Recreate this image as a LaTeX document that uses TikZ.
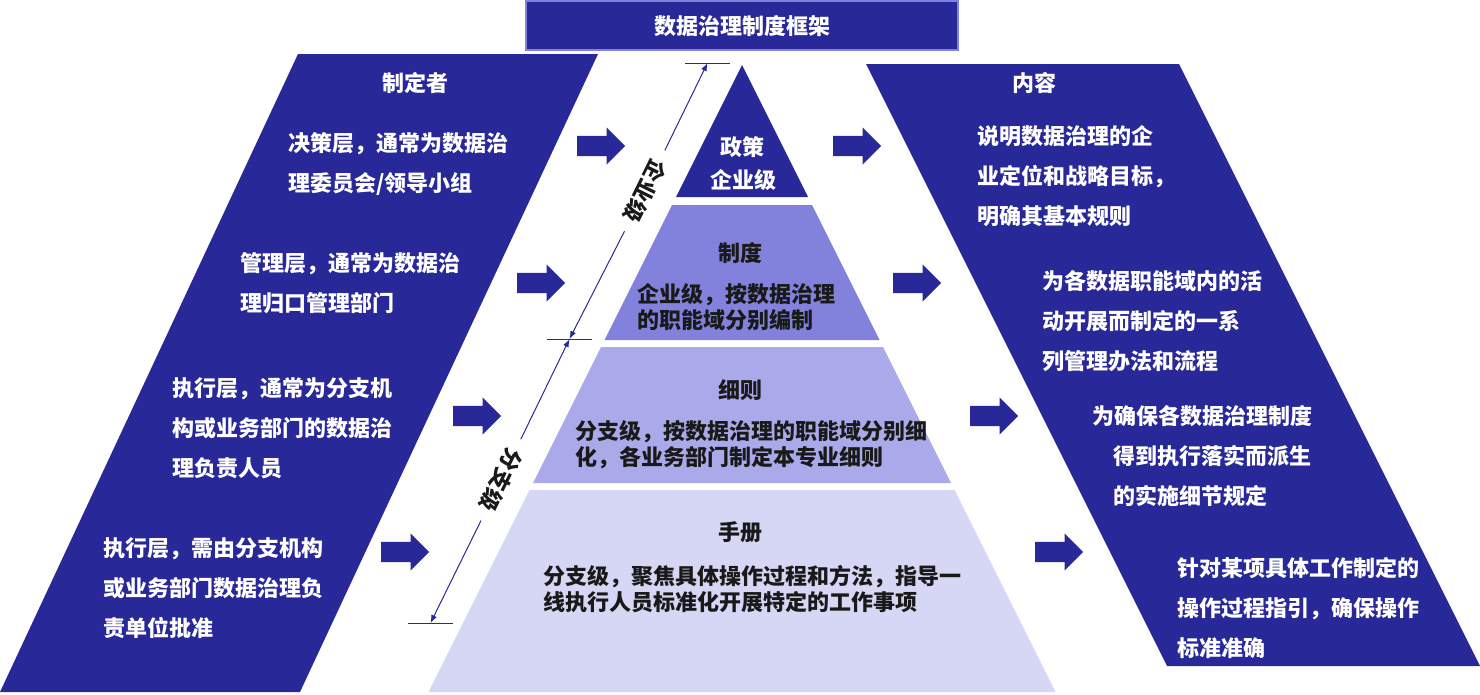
\documentclass[tikz,border=0pt]{standalone}
\usepackage{fontspec}
\setmainfont{Noto Sans CJK SC}
\usepackage{tikz}
\usetikzlibrary{shapes.arrows}
\usetikzlibrary{arrows.meta}
\definecolor{navy}{RGB}{40,40,152}
\definecolor{layerb}{RGB}{130,130,220}
\definecolor{layerc}{RGB}{170,170,234}
\definecolor{layerd}{RGB}{214,214,245}
\definecolor{ink}{RGB}{25,25,25}
\tikzstyle{paneltext} = [white,font=\bfseries\fontsize{22}{40}\selectfont,align=left,anchor=north west,inner sep=0pt]
\tikzstyle{layertext} = [ink,font=\bfseries\fontsize{22}{26}\selectfont,align=left,anchor=north west,inner sep=0pt]
\tikzstyle{heading} = [font=\bfseries\fontsize{22}{26}\selectfont,inner sep=0pt]
\tikzstyle{blockarrow} = [single arrow,fill=navy,draw=none,minimum height=48pt,minimum width=37pt,single arrow head extend=8.5pt,inner xsep=0pt,inner ysep=10pt,anchor=tail]
\tikzstyle{dimline} = [navy,line width=1pt,-{Latex[length=8pt,width=6pt]}]
\tikzstyle{tick} = [navy,line width=1pt]
\tikzstyle{lvl} = [ink,font=\bfseries\fontsize{22}{26}\selectfont,rotate=-116.3,inner xsep=12pt,inner ysep=2pt]

\begin{document}
\begin{tikzpicture}[x=1pt,y=-1pt]
\useasboundingbox (0,0) rectangle (1480,694);

% side panels
\fill[navy] (298,54) -- (598,54) -- (300,692) -- (0,692) -- cycle;
\fill[navy] (866,64) -- (1179,64) -- (1480,666) -- (1167,666) -- cycle;

% pyramid
\fill[navy] (742,65) -- (808,197) -- (676,197) -- cycle;
\foreach \ya/\yb/\col in {205/340/layerb,347/483/layerc,490/692/layerd} {
\pgfmathsetmacro\wa{0.5*(\ya-65)};
\pgfmathsetmacro\wb{0.5*(\yb-65)};
\fill[\col] (742-\wa,\ya) -- (742+\wa,\ya) -- (742+\wb,\yb) -- (742-\wb,\yb) -- cycle;
}

% title
\fill[navy,draw=layerb,line width=1.2pt] (526,1) rectangle (958,50);
\node[heading,white] (title) at (742,26) {数据治理制度框架};

% block arrows (placed by their tails)
\foreach \n/\x/\y in {a1/577/146,b1/833/146,a2/517/283,b2/893/283,a3/453/416,b3/970/416,a4/381/552,b4/1035/552} {
\node[blockarrow] (\n) at (\x,\y) {};
}

% left panel
\node[heading,white] (maker) at (415,83) {制定者};
\node[paneltext] (mk1) at (288,132) {决策层，通常为数据治\\理委员会/领导小组};
\node[paneltext] (mk2) at (240,252) {管理层，通常为数据治\\理归口管理部门};
\node[paneltext] (mk3) at (172,377) {执行层，通常为分支机\\构或业务部门的数据治\\理负责人员};
\node[paneltext] (mk4) at (103,537) {执行层，需由分支机构\\或业务部门数据治理负\\责单位批准};

% right panel
\node[heading,white] (content) at (1034,83) {内容};
\node[paneltext] (ct1) at (977,125) {说明数据治理的企\\业定位和战略目标，\\明确其基本规则};
\node[paneltext] (ct2) at (1042,270) {为各数据职能域内的活\\动开展而制定的一系\\列管理办法和流程};
\node[paneltext] (ct3) at (1092,405) {为确保各数据治理制度\\\hspace*{21pt}得到执行落实而派生\\\hspace*{21pt}的实施细节规定};
\node[paneltext] (ct4) at (1177,557) {针对某项具体工作制定的\\操作过程指引，确保操作\\标准准确};

% pyramid text
\node[heading,white] (pol) at (742,147) {政策};
\node[heading,white] (polb) at (743,180) {企业级};
\node[heading,ink] (sys) at (740,253) {制度};
\node[layertext] (sysb) at (637,283) {企业级，按数据治理\\的职能域分别编制};
\node[heading,ink] (rul) at (740,390) {细则};
\node[layertext] (rulb) at (575,420) {分支级，按数据治理的职能域分别细\\化，各业务部门制定本专业细则};
\node[heading,ink] (man) at (740,532) {手册};
\node[layertext] (manb) at (543,565) {分支级，聚焦具体操作过程和方法，指导一\\线执行人员标准化开展特定的工作事项};

% level scale
\coordinate (t1) at (707.5,63);
\coordinate (t2) at (569.5,339);
\coordinate (t3) at (430.5,623);
\draw[tick] ([xshift=-22.5pt]t1) -- ([xshift=22.5pt]t1);
\draw[tick] ([xshift=-22.5pt]t2) -- ([xshift=22.5pt]t2);
\draw[tick] ([xshift=-22.5pt]t3) -- ([xshift=22.5pt]t3);
\node[lvl] (ent) at (645,191) {企业级};
\node[lvl] (br) at (501,480) {分支级};
\draw[dimline] (ent) -- (t1);
\draw[dimline] (ent) -- (t2);
\draw[dimline] (br) -- (t2);
\draw[dimline] (br) -- (t3);
\end{tikzpicture}
\end{document}
